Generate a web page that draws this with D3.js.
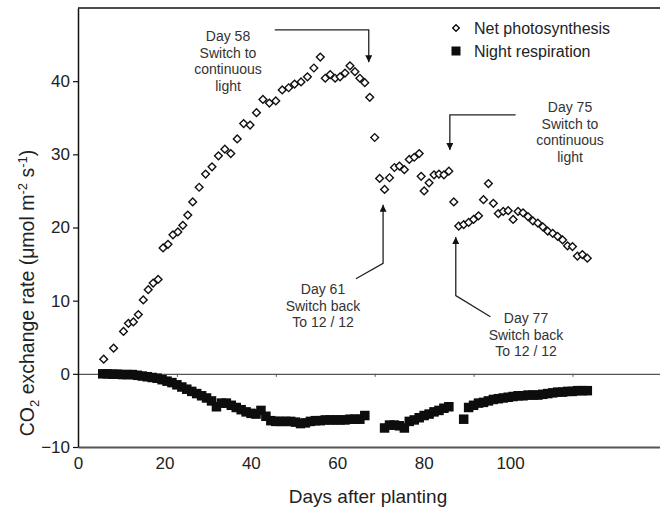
<!DOCTYPE html>
<html>
<head>
<meta charset="utf-8">
<script src="https://cdn.jsdelivr.net/npm/d3@7"></script>
<style>
  body { margin: 0; background: #fff; }
  text { font-family: "Liberation Sans", Arial, sans-serif; }
</style>
</head>
<body>
<svg id="chart"></svg>
<script>
// Net photosynthesis (open diamonds)
var photoDays = [5.2,7.2,9.2,10.2,11.2,12.2,13.2,14.2,15.2,16.2,17.2,18.2,19.2,20.2,21.2,22.2,23.2,24.5,25.8,27.1,
  28.4,29.7,30.9,32.2,33.5,34.8,36.1,37.4,38.7,40.0,41.3,42.6,43.8,45.1,46.4,47.7,49,50,51,52,53,54,55,56,57,58,59,60,61,62,63,64,65,66,67,68,69,69.4,70,
  71,72,73,74,75,76,77,78,79,80,81,82,83,84,85,86,87,88,89,90,91,92,93,94,95,96,97,98,99,100,101,102,103];
var photoValues = [2.0,3.5,5.8,6.9,7.1,8.1,10.1,11.5,12.4,12.9,17.2,17.7,19.0,19.4,20.3,21.7,23.5,25.5,27.3,28.3,
  29.8,30.7,30.1,32.1,34.2,34.0,35.7,37.5,37.0,37.3,38.8,39.1,39.6,39.9,40.6,41.8,43.3,40.4,40.9,40.4,
  40.6,41.1,42.1,41.3,40.4,39.8,37.8,32.3,26.7,25.2,26.8,28.2,28.4,27.9,29.3,29.6,30.1,27.0,25.0,
  26.1,27.2,27.3,27.2,27.7,23.5,20.2,20.4,20.7,21.1,21.6,23.8,26.0,23.3,21.9,22.2,22.3,21.1,22.2,22.0,
  21.5,20.9,20.6,20.1,19.5,19.2,18.8,18.3,17.5,17.4,16.1,16.3,15.8];

// Night respiration (filled squares)
var respDays = [5,6,7,8,9,10,11,12,13,14,15,16,17,18,19,20,21,22,23,24,25,26,27,28,29,30,31,32,33,34,35,36,37,38,39,40,
  41,42,43,44,45,46,47,48,49,50,51,52,53,54,55,56,57,58,
  62,63,64,65,66,67,68,69,70,71,72,73,74,75,
  78,79,80,81,82,83,84,85,86,87,88,89,90,91,92,93,94,95,96,97,98,99,100,101,102,103];
var respValues = [0.0,0.0,-0.05,-0.05,-0.1,-0.1,-0.1,-0.2,-0.3,-0.4,-0.5,-0.6,-0.8,-1.0,-1.2,-1.5,-1.8,-2.1,-2.4,-2.7,-3.0,-3.3,-3.7,-4.5,-4.0,-4.0,
  -4.3,-4.6,-4.9,-5.2,-5.4,-5.5,-5.0,-5.8,-6.4,-6.5,-6.5,-6.5,-6.5,-6.6,-6.8,-6.7,-6.5,-6.4,-6.4,-6.3,
  -6.3,-6.3,-6.3,-6.3,-6.2,-6.2,-6.2,-5.7,
  -7.4,-7.0,-7.0,-7.1,-7.4,-6.5,-6.3,-6.0,-5.7,-5.5,-5.2,-5.0,-4.7,-4.5,
  -6.2,-4.6,-4.3,-4.0,-3.9,-3.7,-3.5,-3.4,-3.3,-3.2,-3.1,-3.0,-3.0,-2.9,-2.9,-2.9,-2.8,-2.7,-2.6,-2.5,
  -2.5,-2.4,-2.4,-2.3,-2.3,-2.3];

var yTicks = [-10, 0, 10, 20, 30, 40];
var xTickLabels = [0, 20, 40, 60, 80, 100];
var zeroLineTicks = [20, 40, 60, 80, 100];
var seriesNames = ["Net photosynthesis", "Night respiration"];

var notes = [
  { lines: ["Day 58", "Switch to", "continuous", "light"], x: 228, y: 36, arrow: [[39.8, 47.0], [58.8, 47.0], [58.8, 42.6]] },
  { lines: ["Day 61", "Switch back", "To 12 / 12"], x: 323, y: 289, arrow: [[56.2, 13.0], [61.7, 15.1], [61.7, 23.1]] },
  { lines: ["Day 75", "Switch to", "continuous", "light"], x: 570, y: 107, arrow: [[88.5, 35.4], [75.2, 35.4], [75.2, 30.6]] },
  { lines: ["Day 77", "Switch back", "To 12 / 12"], x: 526, y: 318, arrow: [[83.4, 7.8], [76.4, 10.7], [76.4, 18.7]] }
];

var width = 660, height = 510;
var plotLeft = 78, plotRight = 660, plotTop = 8, plotBottom = 447;

var svg = d3.select("#chart")
  .attr("width", width)
  .attr("height", height);

// data scale (days) and the scale the printed tick labels sit on
var x = d3.scaleLinear().domain([0, 117.7]).range([plotLeft, plotRight]);
var xLabel = d3.scaleLinear().domain([0, 134.7]).range([plotLeft, plotRight]);
var y = d3.scaleLinear().domain([-10, 50]).range([plotBottom, plotTop]);

svg.append("defs").append("marker")
  .attr("id", "head")
  .attr("viewBox", "0 0 10 10")
  .attr("refX", 10).attr("refY", 5)
  .attr("markerWidth", 10).attr("markerHeight", 7)
  .attr("markerUnits", "userSpaceOnUse")
  .attr("orient", "auto")
  .append("path")
  .attr("d", "M0,0 L10,5 L0,10 Z")
  .attr("fill", "#111");

// top frame line
svg.append("line")
  .attr("x1", plotLeft).attr("x2", plotRight)
  .attr("y1", plotTop).attr("y2", plotTop)
  .attr("stroke", "#111").attr("stroke-width", 1.5);

// bottom axis line + labels
var xAxis = svg.append("g")
  .attr("transform", "translate(0," + plotBottom + ")")
  .call(d3.axisBottom(xLabel).tickValues(xTickLabels).tickSize(0).tickPadding(10).tickFormat(d3.format("d")));
xAxis.select(".domain").attr("stroke", "#555").attr("stroke-width", 2);
xAxis.selectAll("text").attr("font-size", 17).attr("fill", "#222")
  .style("font-family", "'Liberation Sans', Arial, sans-serif");

// zero line with its own small ticks
var zero = svg.append("g")
  .attr("transform", "translate(0," + y(0) + ")")
  .call(d3.axisBottom(x).tickValues(zeroLineTicks).tickSize(3).tickSizeOuter(0).tickFormat(""));
zero.select(".domain").attr("stroke", "#555").attr("stroke-width", 1.2);
zero.selectAll(".tick line").attr("stroke", "#555");

// y axis
var yAxis = svg.append("g")
  .attr("transform", "translate(" + plotLeft + ",0)")
  .call(d3.axisLeft(y).tickValues(yTicks).tickSize(5).tickSizeOuter(0).tickPadding(3));
yAxis.select(".domain").attr("stroke", "#111").attr("stroke-width", 1.5);
yAxis.selectAll(".tick line").attr("stroke", "#111").attr("stroke-width", 1.2);
yAxis.selectAll("text").attr("font-size", 17).attr("fill", "#222")
  .style("font-family", "'Liberation Sans', Arial, sans-serif");

// respiration squares
var sq = 9.5;
svg.append("g").selectAll("rect")
  .data(respDays.map(function(d, i) { return [d, respValues[i]]; }))
  .enter().append("rect")
  .attr("x", function(d) { return x(d[0]) - sq / 2; })
  .attr("y", function(d) { return y(d[1]) - sq / 2; })
  .attr("width", sq).attr("height", sq)
  .attr("fill", "#0d0d0d");

// photosynthesis diamonds
var diamond = d3.symbol().type(d3.symbolSquare).size(30);
svg.append("g").selectAll("path")
  .data(photoDays.map(function(d, i) { return [d, photoValues[i]]; }))
  .enter().append("path")
  .attr("d", diamond)
  .attr("transform", function(d) { return "translate(" + x(d[0]) + "," + y(d[1]) + ") rotate(45)"; })
  .attr("fill", "#fff")
  .attr("stroke", "#111")
  .attr("stroke-width", 1.4);

// annotations
var line = d3.line().x(function(p) { return x(p[0]); }).y(function(p) { return y(p[1]); });
notes.forEach(function(n) {
  svg.append("path")
    .attr("d", line(n.arrow))
    .attr("fill", "none")
    .attr("stroke", "#222")
    .attr("stroke-width", 1.3)
    .attr("marker-end", "url(#head)");
  var t = svg.append("text")
    .attr("text-anchor", "middle")
    .attr("font-size", 14)
    .attr("fill", "#333");
  n.lines.forEach(function(s, i) {
    t.append("tspan")
      .attr("x", n.x)
      .attr("y", n.y + i * 16.6)
      .attr("dy", "0.35em")
      .text(s);
  });
});

// legend
var legend = svg.append("g").attr("transform", "translate(456,28)");
var items = legend.selectAll("g")
  .data(seriesNames)
  .enter().append("g")
  .attr("transform", function(d, i) { return "translate(0," + i * 23 + ")"; });
items.filter(function(d, i) { return i === 0; }).append("path")
  .attr("d", d3.symbol().type(d3.symbolSquare).size(22))
  .attr("transform", "rotate(45)")
  .attr("fill", "#fff").attr("stroke", "#111").attr("stroke-width", 1.4);
items.filter(function(d, i) { return i === 1; }).append("rect")
  .attr("x", -4.5).attr("y", -4.5).attr("width", 9).attr("height", 9)
  .attr("fill", "#0d0d0d");
items.append("text")
  .attr("x", 18)
  .attr("dy", "0.35em")
  .attr("font-size", 16)
  .attr("fill", "#222")
  .text(function(d) { return d; });

// axis titles
svg.append("text")
  .attr("x", 368).attr("y", 503)
  .attr("text-anchor", "middle")
  .attr("font-size", 19)
  .attr("fill", "#222")
  .text("Days after planting");

var yTitle = svg.append("text")
  .attr("transform", "translate(34,293) rotate(-90)")
  .attr("text-anchor", "middle")
  .attr("font-size", 19.5)
  .attr("fill", "#222");
yTitle.append("tspan").text("CO");
yTitle.append("tspan").attr("font-size", 13).attr("dy", 5).text("2");
yTitle.append("tspan").attr("dy", -5).text(" exchange rate (\u03bcmol m");
yTitle.append("tspan").attr("font-size", 13).attr("dy", -7).text("-2");
yTitle.append("tspan").attr("dy", 7).text(" s");
yTitle.append("tspan").attr("font-size", 13).attr("dy", -7).text("-1");
yTitle.append("tspan").attr("dy", 7).text(")");
</script>
</body>
</html>
